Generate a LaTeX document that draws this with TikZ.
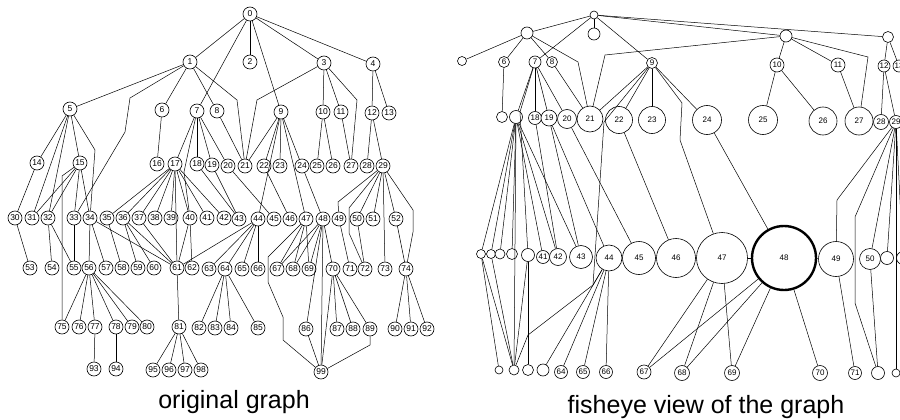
\documentclass[tikz,border=0pt]{standalone}
\usepackage{fontspec}
\setmainfont{Liberation Sans}
\usetikzlibrary{positioning}
\tikzset{
  orignode/.style={draw, circle, line width=0.6pt, minimum size=14pt, inner sep=0pt, fill=white, font=\fontsize{8.5}{9}\selectfont},
  fishnode/.style={draw, circle, line width=0.6pt, inner sep=0pt, fill=white, font=\fontsize{8}{9}\selectfont},
  focusnode/.style={fishnode, line width=2.4pt},
  edgeline/.style={line width=0.5pt},
  captext/.style={font=\fontsize{25}{28}\selectfont, anchor=base}
}

\begin{document}
\begin{tikzpicture}[x=1pt, y=-1pt]
  \useasboundingbox (0,0) rectangle (900,420);
  \clip (0,0) rectangle (900,420);

  % original graph
  \foreach \n/\x/\y in {0/250/14,
      1/190/62, 2/250/62, 3/324/63, 4/373/64,
      5/70/109, 6/162/110, 7/197/111, 8/217/111, 9/281/112, 10/323/112, 11/341/112, 12/372/113, 13/389/113,
      14/37/163, 15/80/163, 16/157/164, 17/175/164, 18/197/164, 19/212/165, 20/228/166, 21/245/166, 22/264/166,
      23/280/166, 24/302/166, 25/317/166, 26/333/166, 27/351/166, 28/367/166, 29/383/166,
      30/15/218, 31/32/218, 32/48/218, 33/74/218, 34/90/218, 35/107/218, 36/123/218, 37/139/218, 38/155/218,
      39/171/218, 40/190/218, 41/207/218, 42/224/218, 43/239/219, 44/258/219, 45/274/219, 46/290/219,
      47/306/219, 48/323/219, 49/339/219, 50/357/219, 51/373/219, 52/396/219,
      53/30/268, 54/52/268, 55/74/268, 56/89/268, 57/106/268, 58/122/268, 59/138/268, 60/154/268, 61/177/268,
      62/192/268, 63/209/269, 64/225/269, 65/242/269, 66/258/269, 67/277/269, 68/293/269, 69/309/269,
      70/333/269, 71/350/269, 72/365/269, 73/385/269, 74/406/269,
      75/62/327, 76/79/327, 77/95/327, 78/116/327, 79/132/327, 80/147/327, 81/179/327, 82/199/328, 83/215/328,
      84/231/328, 85/258/328, 86/306/329, 87/337/329, 88/353/329, 89/370/329, 90/395/329, 91/411/329, 92/427/329,
      93/94/369, 94/116/369, 95/153/370, 96/169/370, 97/185/370, 98/201/370, 99/321/372}
    \node[orignode] (o\n) at (\x,\y) {\n};

  \foreach \a/\b in {0/1, 0/2, 0/3, 0/4, 0/7, 0/9, 1/5, 1/6, 1/8, 3/10, 3/11, 4/12, 4/13,
      5/14, 5/15, 5/31, 5/32, 6/16, 7/17, 7/18, 7/19, 7/20, 8/21,
      9/21, 9/22, 9/23, 9/24, 9/44, 9/47, 10/25, 10/26, 11/27, 12/28, 12/29,
      14/30, 15/31, 15/32, 15/33, 15/34,
      17/35, 17/36, 17/37, 17/38, 17/39, 17/40, 17/41, 17/42, 17/61,
      18/43, 19/43, 20/45, 22/46, 24/48, 29/50, 29/51, 29/52, 29/73,
      30/53, 32/54, 32/55, 33/55, 34/56, 34/57, 34/61, 35/58, 36/59, 36/60, 36/61, 37/61, 40/61, 40/62,
      44/61, 44/63, 44/64, 44/65, 44/66,
      47/67, 47/68, 47/69, 48/67, 48/68, 48/69, 48/70, 48/86, 48/99, 49/71, 50/72, 52/74,
      56/75, 56/76, 56/77, 56/78, 56/79, 56/80, 61/81, 64/82, 64/83, 64/84, 64/85,
      70/87, 70/88, 70/89, 70/99, 74/90, 74/91, 74/92, 86/99, 77/93, 78/94, 81/95, 81/96, 81/97, 81/98}
    \draw[edgeline] (o\a) -- (o\b);

  \draw[edgeline] (o1) -- (237,100) -- (o21);
  \draw[edgeline] (o1) -- (130,98) -- (125,132) -- (o33);
  \draw[edgeline] (o3) -- (257,100) -- (o21);
  \draw[edgeline] (o3) -- (357,100) -- (o27);
  \draw[edgeline] (o5) -- (95,150) -- (o34);
  \draw[edgeline] (o7) -- (184,172) -- (o40);
  \draw[edgeline] (o15) -- (62,176) -- (o75);
  \draw[edgeline] (o29) -- (338,202) -- (o49);
  \draw[edgeline] (o29) -- (349,208) -- (349,233) -- (o72);
  \draw[edgeline] (o29) -- (413,210) -- (413,232) -- (o74);
  \draw[edgeline] (o47) -- (268,257) -- (268,282) -- (283,317) -- (283,340) -- (o99);
  \draw[edgeline] (o89) -- (370,345) -- (o99);

  % fisheye view
  \foreach \n/\x/\y/\s/\lab in {0/594/15/8/{}, 1/527/33/12/{}, 2/594/34/12/{}, 3/786/36/12/{}, 4/888/37/11/{},
      5/462/61/9/{}, 6/504/62/11/6, 7/535/62/12/7, 8/552/62/11/8, 9/652/63/11/9, 10/777/65/14/10,
      11/838/65/14/11, 12/884/66/12/12, 13/899/66/12/13,
      16/502/117/11/{}, 17/516/117/13/{}, 18/535/118/13/18, 19/549/118/16/19, 20/567/119/19/20,
      21/590/119/26/21, 22/619/120/27/22, 23/652/120/27/23, 24/707/120/29/24, 25/763/120/29/25,
      26/823/121/28/26, 27/859/121/28/27, 28/881/122/15/28, 29/896/122/13/29,
      36/481/254/9/{}, 37/491/254/9/{}, 38/500/254/10/{}, 39/512/254/11/{}, 40/528/255/13/{},
      41/543/257/13/41, 42/558/257/17/42, 43/581/257/23/43, 44/609/258/26/44, 45/639/258/33/45,
      46/676/258/39/46, 47/722/258/51/47, 49/836/259/35/49, 50/870/259/21/50, 51/887/258/13/{}, 52/903/258/13/{},
      60/499/370/8/{}, 61/514/370/10/{}, 62/528/370/11/{}, 63/543/370/12/{}, 64/561/372/13/64,
      65/583/372/13/65, 66/606/372/13/66, 67/644/372/14/67, 68/682/373/15/68, 69/732/373/15/69,
      70/820/373/15/70, 71/855/373/13/71, 72/878/373/13/{}, 73/896/373/8/{}}
    \node[fishnode, minimum size=\s pt] (f\n) at (\x,\y) {\lab};
  \node[focusnode, minimum size=64pt] (f48) at (784,258) {48};

  \foreach \a/\b in {0/1, 0/2, 0/3, 0/4, 0/7, 0/9, 1/5, 1/6, 1/8, 3/10, 3/11, 4/12, 4/13,
      6/16, 7/17, 7/18, 7/19, 7/20, 8/21, 9/21, 9/22, 9/23, 9/24,
      10/25, 10/26, 11/27, 12/28, 12/29,
      17/36, 17/37, 17/38, 17/39, 17/41, 17/42, 17/43, 17/61,
      18/42, 19/43, 19/44, 20/45, 22/46, 24/48, 29/50, 29/51, 29/52, 29/73,
      36/60, 36/61, 37/61, 40/61, 40/62, 44/63, 44/64, 44/65, 44/66,
      47/48, 48/49, 47/67, 47/68, 47/69, 48/67, 48/68, 48/69, 48/70, 49/71, 50/72}
    \draw[edgeline] (f\a) -- (f\b);

  \draw[edgeline] (f1) -- (578,62) -- (f21);
  \draw[edgeline] (f3) -- (605,55) -- (f21);
  \draw[edgeline] (f3) -- (868,57) -- (f27);
  \draw[edgeline] (f7) -- (520,112) -- (f40);
  \draw[edgeline] (f9) -- (682,103) -- (680,140) -- (f47);
  \draw[edgeline] (f9) -- (604,122) -- (593,285) -- (528,335) -- (f61);
  \draw[edgeline] (f44) -- (593,285);
  \draw[edgeline] (f29) -- (837,200) -- (f49);
  \draw[edgeline] (f29) -- (855,217) -- (855,303) -- (f72);

  \node[captext] (origcap) at (234,408) {original graph};
  \node[captext] (fishcap) at (706,413) {fisheye view of the graph};
\end{tikzpicture}
\end{document}
